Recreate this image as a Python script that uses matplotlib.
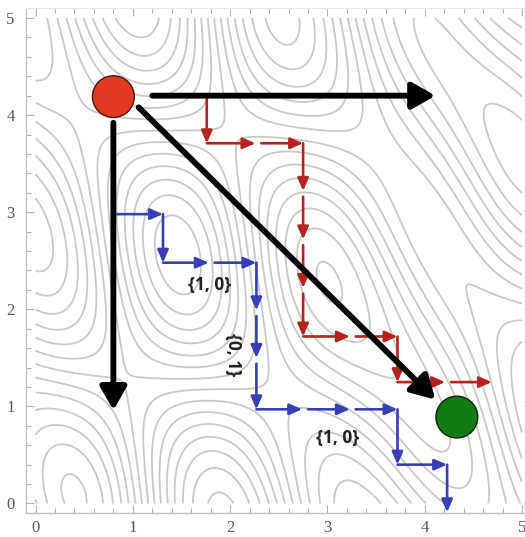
import numpy as np
import matplotlib
matplotlib.use("Agg")
import matplotlib.pyplot as plt
from matplotlib.patches import Circle

# ---- data ----
start_pt = (0.80, 4.19)
goal_pt = (4.33, 0.89)
circle_r = 0.215

black_arrows = [
    ((1.20, 4.20), (4.11, 4.20)),
    ((0.80, 3.92), (0.80, 0.96)),
    ((1.06, 4.08), (4.11, 1.07)),
]

red_x = [1.76, 1.76, 2.26, 2.75, 2.75, 2.75, 2.75, 2.75, 3.23, 3.72, 3.72, 4.21, 4.69]
red_y = [4.20, 3.71, 3.71, 3.71, 3.22, 2.72, 2.22, 1.72, 1.72, 1.72, 1.25, 1.25, 1.25]

blue_x = [0.82, 1.31, 1.31, 1.78, 2.27, 2.27, 2.27, 2.27, 2.74, 3.23, 3.72, 3.72, 4.23, 4.23]
blue_y = [2.98, 2.98, 2.48, 2.48, 2.48, 1.99, 1.50, 0.97, 0.97, 0.97, 0.97, 0.40, 0.40, -0.09]

labels = ["{1, 0}", "{0, 1}", "{1, 0}"]
label_x = [1.79, 2.03, 3.10]
label_y = [2.25, 1.53, 0.67]
label_rot = [0, -90, 0]

# contour field parameters (u across the bands, v along the bands)
band_freq = 1.9
band_tilt = 0.35
band_phase = 0.6
along_freq = 1.05
along_mix = 0.3
along_amp = 0.9
ripple = (2.6, -0.9, 0.45)
n_levels = 16

# ---- figure ----
fig = plt.figure(figsize=(5.25, 5.37), dpi=100)
ax = fig.add_axes([25.8 / 525, (537 - 513.2) / 537, 5.2 * 97.3 / 525, 5.2 * 97.1 / 537])
ax.set_xlim(-0.1, 5.1)
ax.set_ylim(-0.1, 5.1)

gx = np.linspace(0, 5, 300)
gy = np.linspace(0, 5, 300)
X, Y = np.meshgrid(gx, gy)
U = X + Y
V = X - Y
Z = (np.sin(band_freq * U + band_tilt * V + band_phase)
     + along_amp * np.cos(along_freq * V + along_mix * U)
     + ripple[2] * np.sin(ripple[0] * X + ripple[1] * Y))
ax.contour(X, Y, Z, levels=n_levels, colors="#c8c8c8", linewidths=1.3,
           linestyles="solid", zorder=1)

def step_arrows(xs, ys, color):
    pts = list(zip(xs, ys))
    gap = 0.06
    prev_dir = None
    for i in range(len(pts) - 1):
        x0, y0 = pts[i]
        x1, y1 = pts[i + 1]
        d = np.array([x1 - x0, y1 - y0])
        d = d / np.linalg.norm(d)
        s = np.array([x0, y0])
        if prev_dir is not None and np.allclose(d, prev_dir):
            s = s + d * gap
        ax.annotate("", xy=(x1, y1), xytext=tuple(s),
                    arrowprops=dict(arrowstyle="-|>,head_length=0.75,head_width=0.33",
                                    color=color, lw=1.9, shrinkA=0, shrinkB=0,
                                    mutation_scale=10),
                    zorder=4, annotation_clip=False)
        prev_dir = d

step_arrows(red_x, red_y, "#b3241c")
step_arrows(blue_x, blue_y, "#3a3db3")

for (s, e) in black_arrows:
    ax.annotate("", xy=e, xytext=s,
                arrowprops=dict(arrowstyle="-|>,head_length=0.7,head_width=0.4",
                                color="black", lw=4.2, shrinkA=0, shrinkB=0,
                                mutation_scale=20),
                zorder=5)

ax.add_patch(Circle(start_pt, circle_r, facecolor="#e23a20", edgecolor="#4a1408", lw=1.0, zorder=6))
ax.add_patch(Circle(goal_pt, circle_r, facecolor="#117a12", edgecolor="#0a200a", lw=1.0, zorder=6))

for t, lx, ly, r in zip(labels, label_x, label_y, label_rot):
    ax.text(lx, ly, t, rotation=r, ha="center", va="center", fontsize=12.5,
            fontweight="bold", family="Open Sans", color="#222222", zorder=7)

ax.set_xticks(range(6))
ax.set_yticks(range(6))
ax.set_xticks(np.arange(0, 5.01, 0.2), minor=True)
ax.set_yticks(np.arange(0, 5.01, 0.2), minor=True)
ax.tick_params(which="both", direction="in", top=True, right=True, color="#b0b0b0",
               labelsize=12, labelcolor="#555555")
ax.tick_params(axis="x", pad=5)
ax.tick_params(axis="y", pad=8)
ax.tick_params(which="major", length=6, width=0.8)
ax.tick_params(which="minor", length=3.5, width=0.7)
for lab in ax.get_xticklabels() + ax.get_yticklabels():
    lab.set_family("Liberation Serif")
for name, sp in ax.spines.items():
    sp.set_color("#bbbbbb" if name in ("left", "bottom") else "#e6e6e6")
    sp.set_linewidth(0.9)

fig.savefig("out.png", dpi=100)
